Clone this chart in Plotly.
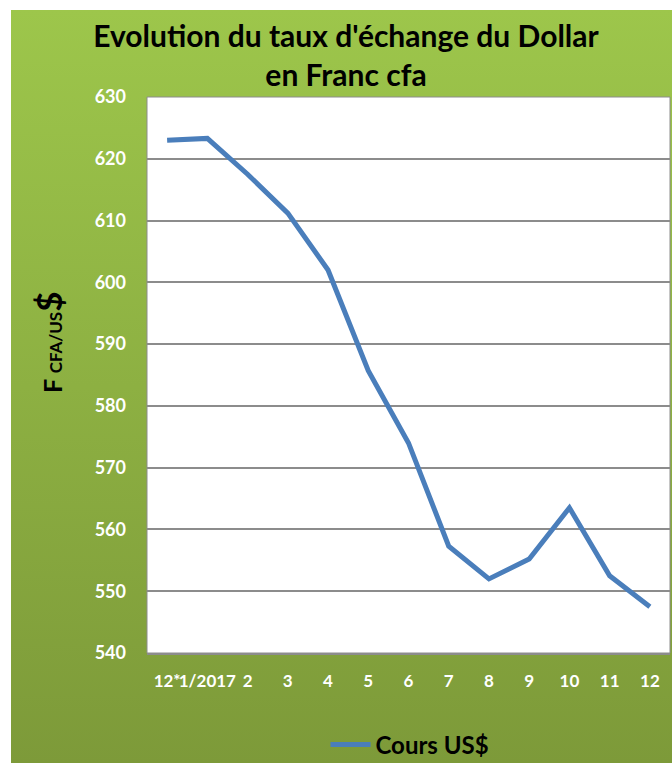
import base64
import plotly.graph_objects as go

months = ["12*", "1/2017", "2", "3", "4", "5", "6", "7", "8", "9", "10", "11", "12"]
cours_usd = [623.0, 623.3, 617.5, 611.2, 602.0, 585.7, 574.0, 557.3, 552.0, 555.2, 563.5, 552.5, 547.5]
y_ticks = [540, 550, 560, 570, 580, 590, 600, 610, 620, 630]

W, H = 672, 763
ML, MR, MT, MB = 147, 2, 97, 110
PW, PH = W - ML - MR, H - MT - MB

svg = ('<svg xmlns="http://www.w3.org/2000/svg" width="100" height="100" preserveAspectRatio="none">'
       '<defs><linearGradient id="g" x1="0" y1="0" x2="0" y2="1">'
       '<stop offset="0" stop-color="#9DC64B"/><stop offset="1" stop-color="#7D9A39"/>'
       '</linearGradient></defs><rect width="100" height="100" fill="url(#g)"/></svg>')
src = "data:image/svg+xml;base64," + base64.b64encode(svg.encode()).decode()

def px_x(px):
    return (px - ML) / PW

def px_y(py):
    return (H - MB - py) / PH

FONT = "Lato, 'Open Sans', sans-serif"

fig = go.Figure()
fig.add_trace(go.Scatter(
    x=months, y=cours_usd, mode="lines", name="Cours US$",
    line=dict(color="#4A7EBB", width=5, shape="linear"),
))

fig.add_layout_image(dict(
    source=src, xref="paper", yref="paper",
    x=px_x(11), y=px_y(10), sizex=px_x(W) - px_x(11), sizey=px_y(10) - px_y(H),
    xanchor="left", yanchor="top", sizing="stretch", layer="below",
))
fig.add_shape(type="rect", xref="paper", yref="paper", x0=0, x1=1, y0=0, y1=1,
              fillcolor="white", line=dict(color="#8C8C8C", width=1), layer="below")

fig.add_annotation(
    text="<b>F <span style='font-size:17px'>CFA/US</span><span style='font-size:35px'>$</span></b>",
    xref="paper", yref="paper", x=px_x(48), y=px_y(342),
    xanchor="center", yanchor="middle",
    showarrow=False, textangle=-90, font=dict(family=FONT, size=25, color="black"),
)

fig.update_layout(
    width=W, height=H,
    margin=dict(l=ML, r=MR, t=MT, b=MB, pad=0, autoexpand=False),
    paper_bgcolor="white", plot_bgcolor="rgba(0,0,0,0)",
    title=dict(
        text="<b>Evolution du taux d'échange du Dollar<br>en Franc cfa</b>",
        x=346 / W, xref="container", xanchor="center",
        y=1 - 47 / H, yref="container", yanchor="top",
        font=dict(family=FONT, size=30, color="black"),
    ),
    showlegend=True,
    legend=dict(
        orientation="h", x=px_x(410), xanchor="center", xref="paper",
        y=px_y(745), yanchor="middle", yref="paper",
        font=dict(family=FONT, size=24, color="black", weight="bold"),
        bgcolor="rgba(0,0,0,0)", itemwidth=40,
    ),
    xaxis=dict(
        type="category", tickmode="array", tickvals=months, ticktext=months,
        tickangle=0, showgrid=False, showline=True, linecolor="#8C8C8C", linewidth=2,
        ticks="", ticklabelstandoff=12, automargin=False,
        tickfont=dict(family=FONT, size=17, color="white", weight="bold"),
        range=[-0.5, len(months) - 0.5],
    ),
    yaxis=dict(
        range=[540, 630], tickmode="array", tickvals=y_ticks, automargin=False,
        showgrid=True, gridcolor="#8C8C8C", gridwidth=2, zeroline=False,
        ticks="", ticklabelstandoff=20,
        tickfont=dict(family=FONT, size=18, color="white", weight="bold"),
    ),
)

fig.write_html("out.html", config={"displayModeBar": False},
               post_script="document.body.style.margin='0';document.body.style.overflow='hidden';")
